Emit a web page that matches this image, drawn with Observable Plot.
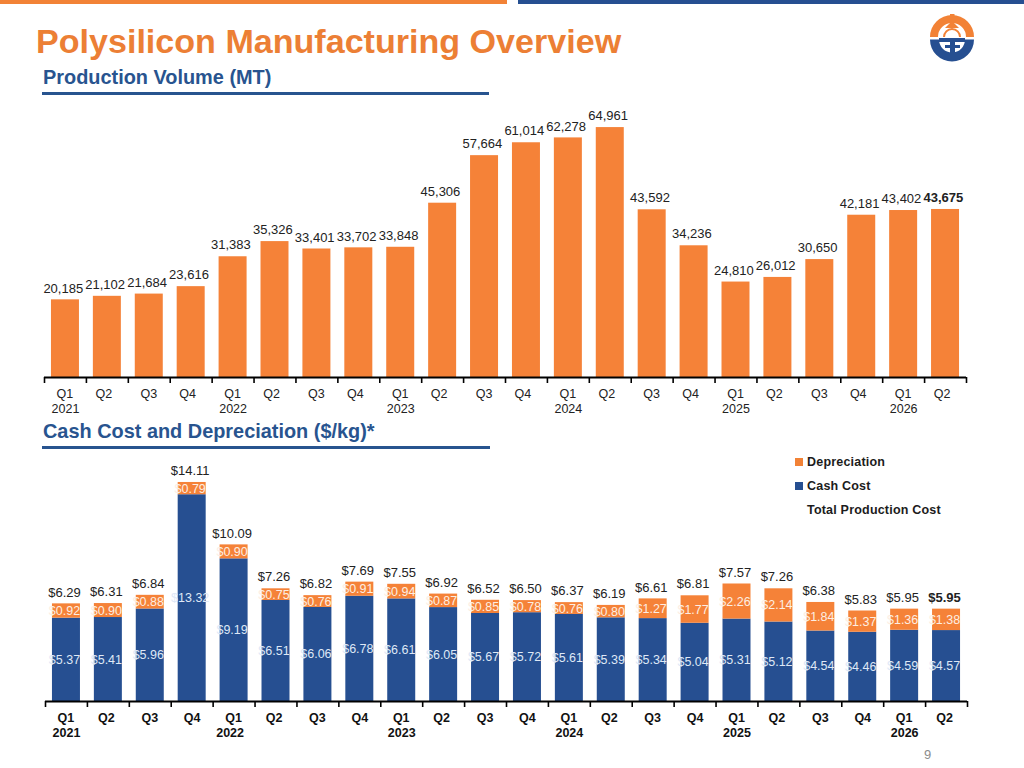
<!DOCTYPE html>
<html>
<head>
<meta charset="utf-8">
<script src="https://cdn.jsdelivr.net/npm/d3@7"></script>
<script src="https://cdn.jsdelivr.net/npm/@observablehq/plot@0.6"></script>
<style>
  html, body { margin: 0; padding: 0; background: #fff; }
  body { width: 1024px; height: 768px; position: relative; overflow: hidden; font-family: "Liberation Sans", Arial, sans-serif; }
  .abs { position: absolute; white-space: nowrap; }
  .h2 { font-weight: bold; font-size: 19.9px; color: #28548f; left: 43px; line-height: 24px; }
  .legend { font-weight: bold; font-size: 12.5px; color: #1c1c1c; left: 807px; line-height: 16px; letter-spacing: 0.2px; }
  .swatch { left: 795px; width: 8px; height: 8px; }
</style>
</head>
<body>
<div class="abs" style="left:0;top:0;width:507px;height:4px;background:#f28236"></div>
<div class="abs" style="left:518px;top:0;width:506px;height:4px;background:#264f91"></div>
<div class="abs" style="left:36px;top:21px;font-weight:bold;font-size:34.1px;line-height:40px;color:#ec7f35">Polysilicon Manufacturing Overview</div>
<svg class="abs" style="left:0;top:0" width="1024" height="70" aria-hidden="true">
  <path fill="#f28236" d="M930,37 A22,22 0 0 1 974,37 L966,37 A14,14 0 0 0 938,37 Z"/>
  <rect fill="#f28236" x="950" y="14" width="4.5" height="5"/>
  <path fill="#f28236" d="M952,21 L959,28 L945,28 Z"/>
  <path fill="none" stroke="#f28236" stroke-width="2" d="M944,37 A8,8 0 0 1 960,37"/>
  <path fill="#264f91" d="M930,39.5 A22,22 0 0 0 974,39.5 L965,39.5 A13,13 0 0 1 939,39.5 Z"/>
  <rect fill="#264f91" x="939" y="38" width="26" height="4"/>
  <rect fill="#264f91" x="945" y="45" width="15" height="3"/>
  <rect fill="#264f91" x="950" y="41" width="5" height="14"/>
</svg>
<div class="abs h2" style="top:65px">Production Volume (MT)</div>
<div class="abs" style="left:42px;top:92px;width:447px;height:3px;background:#28548f"></div>
<div id="chart1" class="abs" style="left:0;top:100px"></div>
<div class="abs h2" style="top:419px">Cash Cost and Depreciation ($/kg)*</div>
<div class="abs" style="left:42px;top:446px;width:448px;height:3px;background:#28548f"></div>
<div id="chart2" class="abs" style="left:0;top:450px"></div>
<div class="abs swatch" style="top:458px;background:#f28236"></div>
<div class="abs legend" style="top:454px">Depreciation</div>
<div class="abs swatch" style="top:482px;background:#264f91"></div>
<div class="abs legend" style="top:478px">Cash Cost</div>
<div class="abs legend" style="top:502px">Total Production Cost</div>
<div class="abs" style="left:924px;top:747px;font-size:13px;line-height:16px;color:#8c8c8c">9</div>
<script>
const quarters = ["Q1","Q2","Q3","Q4","Q1","Q2","Q3","Q4","Q1","Q2","Q3","Q4","Q1","Q2","Q3","Q4","Q1","Q2","Q3","Q4","Q1","Q2"];
const years = ["2021","","","","2022","","","","2023","","","","2024","","","","2025","","","","2026",""];
const production = [20185,21102,21684,23616,31383,35326,33401,33702,33848,45306,57664,61014,62278,64961,43592,34236,24810,26012,30650,42181,43402,43675];
const cashCost = [5.37,5.41,5.96,13.32,9.19,6.51,6.06,6.78,6.61,6.05,5.67,5.72,5.61,5.39,5.34,5.04,5.31,5.12,4.54,4.46,4.59,4.57];
const depreciation = [0.92,0.90,0.88,0.79,0.90,0.75,0.76,0.91,0.94,0.87,0.85,0.78,0.76,0.80,1.27,1.77,2.26,2.14,1.84,1.37,1.36,1.38];
const totalCost = [6.29,6.31,6.84,14.11,10.09,7.26,6.82,7.69,7.55,6.92,6.52,6.50,6.37,6.19,6.61,6.81,7.57,7.26,6.38,5.83,5.95,5.95];

const ORANGE = "#f58238", BLUE = "#264f91", FONT = "Liberation Sans", INK = "#222";
const rows = quarters.map((q, i) => ({
  i, q, year: years[i],
  production: production[i], cash: cashCost[i], dep: depreciation[i], total: totalCost[i]
}));
const last = rows.length - 1;
const money = v => "$" + v.toFixed(2);
const barX = {x1: d => d.i + 0.166, x2: d => d.i + 0.834};
const mid = d => d.i + 0.5;

function axisMarks(options) {
  const {bold, q2dx, q4dx} = options;
  const fontWeight = bold ? "bold" : "normal";
  const fill = bold ? "#111" : INK;
  const label = (filter, dx, text, dy) => Plot.text(rows.filter(filter), {
    x: mid, y: () => 0, text, dy, dx, fontSize: 12.5, fontWeight, fill
  });
  return [
    Plot.axisX({ticks: d3.range(quarters.length + 1), tickSize: 6, stroke: "#000", strokeWidth: 1.6, fill: "none", label: null}),
    Plot.ruleY([0], {stroke: "#000", strokeWidth: 2}),
    label(d => d.q === "Q1" || d.q === "Q3", -0.5, "q", 16.5),
    label(d => d.q === "Q2", q2dx, "q", 16.5),
    label(d => d.q === "Q4", q4dx, "q", 16.5),
    label(d => d.year && d.year !== "2022", 0, "year", 31.5),
    label(d => d.year === "2022", bold ? -4 : 0, "year", 31.5)
  ];
}

const chart1 = Plot.plot({
  width: 1024, height: 320,
  marginLeft: 44, marginRight: 58, marginTop: 0, marginBottom: 43,
  style: {fontFamily: FONT, background: "transparent"},
  x: {type: "linear", domain: [0, quarters.length], axis: null},
  y: {domain: [0, 72000], axis: null},
  marks: [
    Plot.rect(rows, {...barX, y1: () => 0, y2: "production", fill: ORANGE}),
    Plot.text(rows.slice(0, last), {x: mid, y: "production", text: d => d3.format(",")(d.production), dx: -2.2, dy: -11.5, fontSize: 13, fill: INK}),
    Plot.text(rows.slice(last), {x: mid, y: "production", text: d => d3.format(",")(d.production), dx: -2.2, dy: -12, fontSize: 13, fontWeight: "bold", fill: INK}),
    ...axisMarks({bold: false, q2dx: -3.5, q4dx: -3.5})
  ]
});
document.getElementById("chart1").append(chart1);

const chart2 = Plot.plot({
  width: 1024, height: 300,
  marginLeft: 45, marginRight: 57, marginTop: 0, marginBottom: 49,
  style: {fontFamily: FONT, background: "transparent"},
  x: {type: "linear", domain: [0, quarters.length], axis: null},
  y: {domain: [0, 16.17], axis: null},
  marks: [
    Plot.rect(rows, {...barX, y1: () => 0, y2: "cash", fill: BLUE}),
    Plot.rect(rows, {...barX, y1: "cash", y2: d => d.cash + d.dep, fill: ORANGE}),
    Plot.text(rows, {x: mid, y: d => d.cash / 2, text: d => money(d.cash), dx: -2, fontSize: 12.5, fill: "#dfe8f6"}),
    Plot.text(rows, {x: mid, y: d => d.cash + d.dep / 2, text: d => money(d.dep), dx: -2, fontSize: 12.5, fill: "#fdeee2"}),
    Plot.text(rows.slice(0, last), {x: mid, y: d => d.cash + d.dep, text: d => money(d.total), dx: -2, dy: -11.5, fontSize: 13, fill: INK}),
    Plot.text(rows.slice(last), {x: mid, y: d => d.cash + d.dep, text: d => money(d.total), dx: -2, dy: -11.5, fontSize: 13, fontWeight: "bold", fill: INK}),
    ...axisMarks({bold: true, q2dx: -2, q4dx: 0})
  ]
});
document.getElementById("chart2").append(chart2);
</script>
</body>
</html>
